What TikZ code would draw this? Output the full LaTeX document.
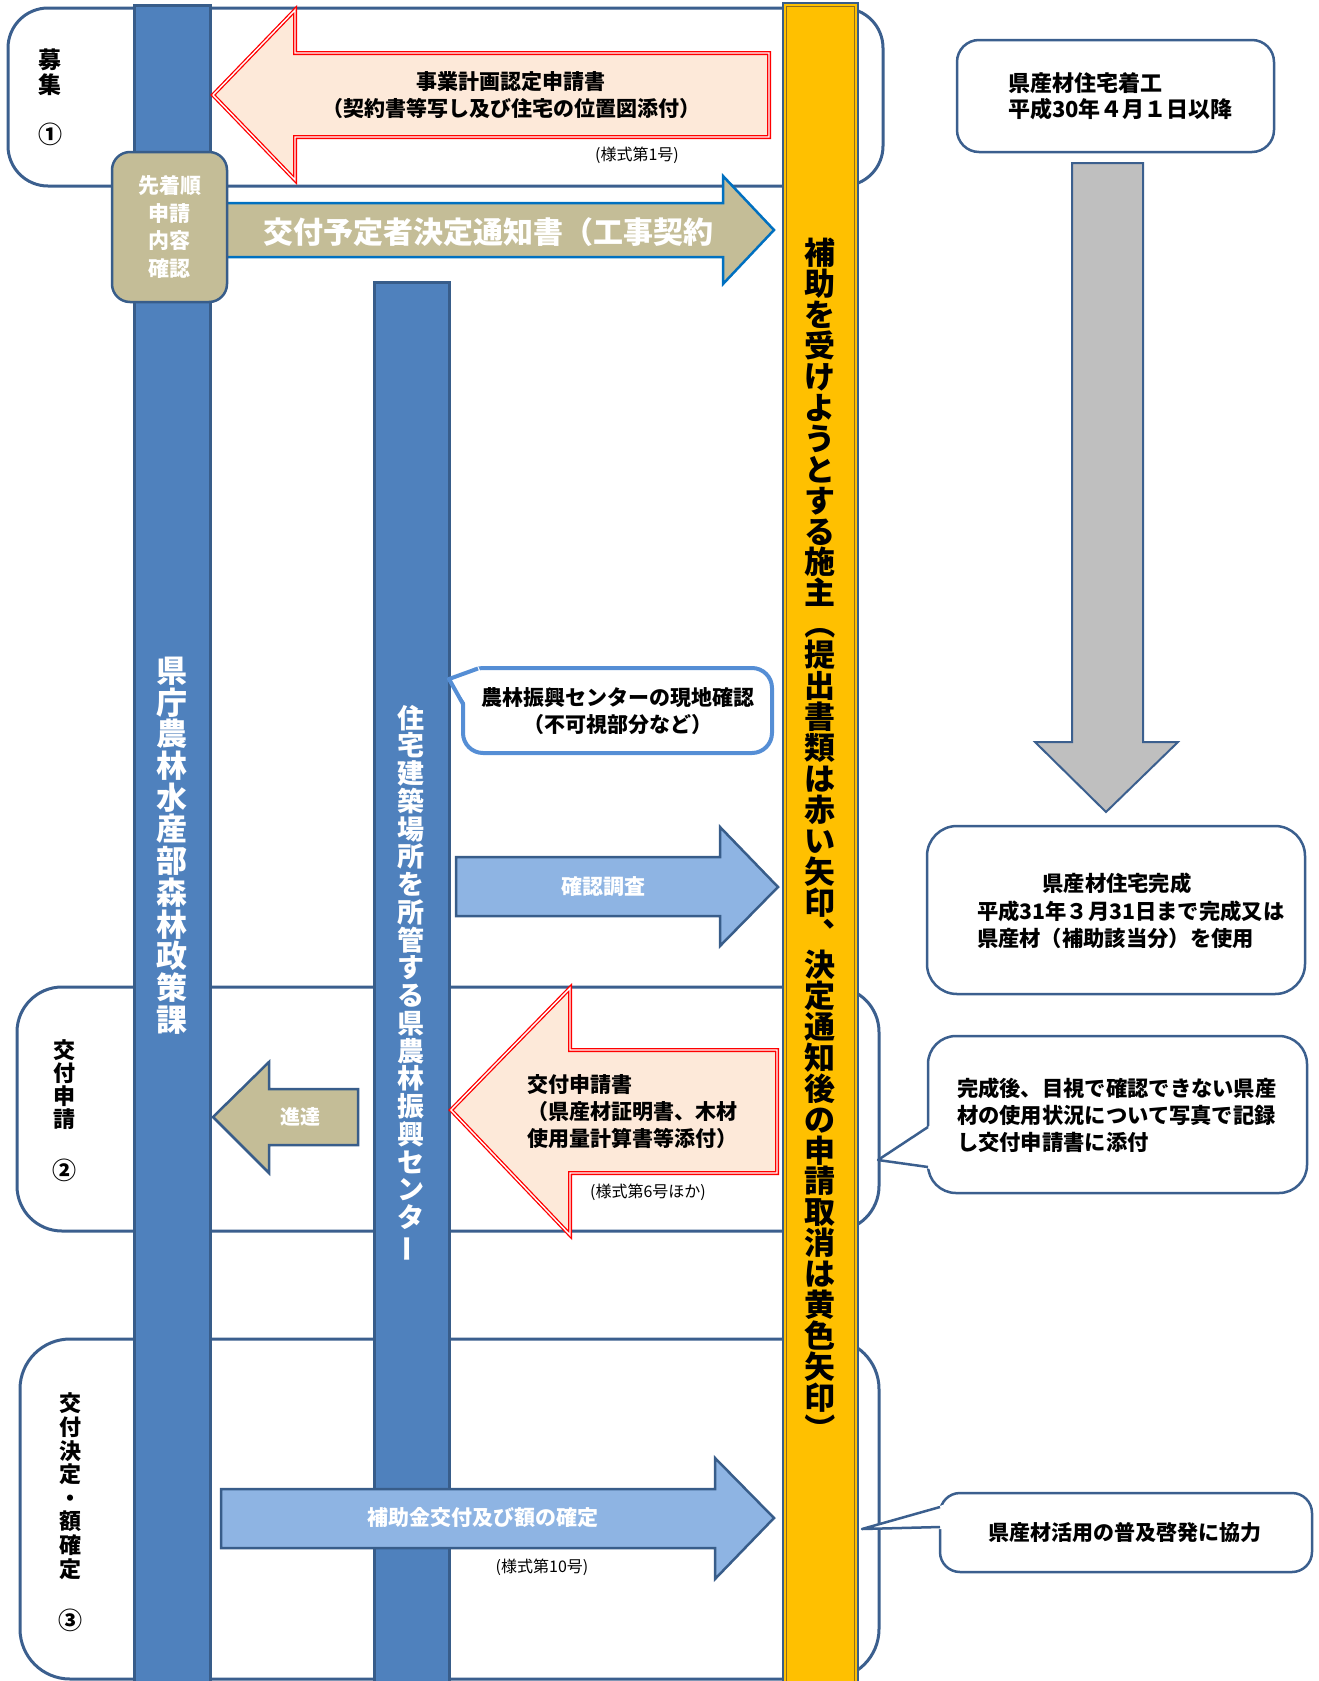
\documentclass[tikz,border=0pt]{standalone}
\usepackage{fontspec}
\usepackage{graphicx}
\newfontfamily\jp{Noto Sans CJK JP}
\definecolor{phase}{HTML}{3B5F8E}
\definecolor{barfill}{HTML}{4F81BD}
\definecolor{barline}{HTML}{385D8A}
\definecolor{khaki}{HTML}{C4BD97}
\definecolor{peach}{HTML}{FDE9D9}
\definecolor{ltblue}{HTML}{8EB4E3}
\definecolor{ybar}{HTML}{FFC000}
\definecolor{ybarin}{HTML}{8C6D1F}
\definecolor{grayarrow}{HTML}{BFBFBF}
\definecolor{calloutblue}{HTML}{558ED5}
\definecolor{noticeblue}{HTML}{0070C0}
\makeatletter
\newcommand\vtext[1]{\@tfor\vch:=#1\do{\vch\\}}
\makeatother
\newcommand\fsz[2]{\fontsize{#1}{#2}\selectfont}
\newcommand\vopen{{\rotatebox[origin=c]{-90}{（}}}
\newcommand\vclose{{\rotatebox[origin=c]{-90}{）}}}
\newcommand\vbar{{\rotatebox[origin=c]{90}{ー}}}
\begin{document}
\begin{tikzpicture}[x=1pt,y=-1pt,
  every node/.style={inner sep=0pt, outer sep=0pt},
  phasebox/.style={draw=phase, line width=3, fill=white},
  bluebar/.style={draw=barline, fill=barfill, line width=3},
  redarrow/.style={draw=red, double=white, double distance=1.4pt, line width=1.3pt, fill=peach},
  khakiarrow/.style={draw=barline, fill=khaki, line width=2.5},
  bluearrow/.style={draw=barline, fill=ltblue, line width=2.5},
  infobox/.style={draw=phase, fill=white, line width=2.5},
  boldtxt/.style={font=\jp\bfseries\fsz{21}{27}},
  smalltxt/.style={font=\jp\fsz{16}{18}, text=black},
  vlabel/.style={anchor=north, align=center, text=black},
]
\useasboundingbox (0,0) rectangle (1318,1681);

% phase boxes
\draw[phasebox, rounded corners=40] (8,8) rectangle (883,186);
\draw[phasebox, rounded corners=45] (17,987) rectangle (879,1231);
\draw[phasebox, rounded corners=50] (20,1339) rectangle (879,1679);

% vertical bars
\draw[bluebar] (134,5) rectangle (210,1695);
\draw[bluebar] (374,282) rectangle (449,1695);
\draw[draw=barline, fill=ybar, line width=1.5] (783,3) rectangle (858,1695);
\draw[draw=ybarin, line width=1] (786.5,6.5) rectangle (854.5,1695);

% red arrow 1
\draw[redarrow] (213,95) -- (295,10) -- (295,53) -- (769,53) -- (769,137) -- (295,137) -- (295,180) -- cycle;
% khaki arrow (notice)
\draw[draw=noticeblue, fill=khaki, line width=2.5] (200,203) -- (723,203) -- (723,176) -- (774,230) -- (723,284) -- (723,257) -- (200,257) -- cycle;
% first-come box
\draw[draw=barline, fill=khaki, line width=2.5, rounded corners=18] (112,152) rectangle (227,302);

% right column
\draw[infobox, rounded corners=22] (957,40) rectangle (1274,152);
\draw[draw=phase, fill=grayarrow, line width=2] (1072,163) -- (1143,163) -- (1143,742) -- (1178,742) -- (1106,812) -- (1035,742) -- (1072,742) -- cycle;
\draw[infobox, rounded corners=30] (927,826) rectangle (1305,994);

% callout: photo record
\draw[infobox, rounded corners=28] (928,1036) rectangle (1307,1193);
\fill[white] (931,1125) -- (878,1160) -- (931,1169) -- cycle;
\draw[draw=phase, line width=2.5, line join=round] (928,1127) -- (878,1160) -- (928,1167);

% callout: promotion
\draw[infobox, rounded corners=20] (940,1493) rectangle (1312,1572);
\fill[white] (943,1505) -- (862,1529) -- (943,1529) -- cycle;
\draw[draw=phase, line width=2.5, line join=round] (940,1507) -- (862,1529) -- (940,1527);

% callout: field check
\draw[draw=calloutblue, fill=white, line width=4, rounded corners=20] (463,668) rectangle (772,753);
\fill[white] (449,679) -- (478,666) -- (486,684) -- (466,704) -- cycle;
\draw[draw=calloutblue, line width=4, line join=round] (478,668.5) -- (449,679) -- (463,704);

% light-blue arrow 確認調査
\draw[bluearrow] (456,857) -- (720,857) -- (720,827) -- (778,887) -- (720,946) -- (720,916) -- (456,916) -- cycle;
% red arrow 2
\draw[redarrow] (451,1110) -- (570,988) -- (570,1050) -- (777,1050) -- (777,1173) -- (570,1173) -- (570,1235) -- cycle;
% khaki arrow 進達
\draw[khakiarrow] (213,1117) -- (269,1062) -- (269,1089) -- (358,1089) -- (358,1145) -- (269,1145) -- (269,1173) -- cycle;
% light-blue arrow 補助金交付
\draw[bluearrow] (221,1489) -- (715,1489) -- (715,1458) -- (774,1518) -- (715,1579) -- (715,1548) -- (221,1548) -- cycle;

% ---------- texts ----------
\node[vlabel, font=\jp\bfseries\fsz{23}{25}] (boshu) at (50,49) {\vtext{募集}};
\node[font=\jp\bfseries\fsz{24}{24}] (c1) at (50,134) {①};
\node[vlabel, font=\jp\bfseries\fsz{22}{23}] (kofushinsei) at (64,1040) {\vtext{交付申請}};
\node[font=\jp\bfseries\fsz{24}{24}] (c2) at (64,1170) {②};
\node[vlabel, font=\jp\bfseries\fsz{22}{23.6}] (kofukettei) at (70,1393) {\vtext{交付決定・額確定}};
\node[font=\jp\bfseries\fsz{24}{24}] (c3) at (70,1620) {③};

\node[anchor=north, align=center, text=white, font=\jp\bfseries\fsz{31}{31.7}] (kencho) at (172,657) {\vtext{県庁農林水産部森林政策課}};
\node[anchor=north, align=center, text=white, font=\jp\bfseries\fsz{27}{27.75}] (center) at (411,705) {\vtext{住宅建築場所を所管する県農林振興センタ\vbar}};
\node[anchor=north, align=center, text=black, font=\jp\bfseries\fsz{31}{30.95}] (seshu) at (820,238) {\vtext{補助を受けようとする施主\vopen 提出書類は赤い矢印︑決定通知後の申請取消は黄色矢印\vclose}};

\node[boldtxt, align=center, text=black] (jigyo) at (511,95) {事業計画認定申請書\\（契約書等写し及び住宅の位置図添付）};
\node[smalltxt] (yoshiki1) at (637,155) {(様式第1号)};
\node[font=\jp\bfseries\fsz{30}{30}, text=white] (tsuchi) at (488,232) {交付予定者決定通知書（工事契約};
\node[font=\jp\bfseries\fsz{21}{27.7}, text=white, align=center] (senchaku) at (169.5,227) {先着順\\申請\\内容\\確認};

\node[font=\jp\bfseries\fsz{22}{26}, text=black, align=left, anchor=west] (chakko) at (1008,96) {県産材住宅着工\\平成30年４月１日以降};
\node[font=\jp\bfseries\fsz{21.3}{27}, text=black] (kansei1) at (1117,883) {県産材住宅完成};
\node[font=\jp\bfseries\fsz{21.3}{27}, text=black, align=left, anchor=west] (kansei2) at (977,924.5) {平成31年３月31日まで完成又は\\県産材（補助該当分）を使用};
\node[font=\jp\bfseries\fsz{21.3}{27}, text=black, align=left, anchor=west] (shashin) at (957,1115) {完成後、目視で確認できない県産\\材の使用状況について写真で記録\\し交付申請書に添付};
\node[font=\jp\bfseries\fsz{21}{27}, text=black] (fukyu) at (1125,1533) {県産材活用の普及啓発に協力};

\node[boldtxt, align=center, text=black] (genchi) at (618,711) {農林振興センターの現地確認\\（不可視部分など）};
\node[boldtxt, text=white] (kakunin) at (603,887) {確認調査};
\node[boldtxt, align=left, anchor=west, text=black] (kofusho) at (527,1112) {交付申請書\\（県産材証明書、木材\\使用量計算書等添付）};
\node[smalltxt] (yoshiki6) at (648,1192) {(様式第6号ほか)};
\node[font=\jp\bfseries\fsz{20}{20}, text=white] (shintatsu) at (300,1117) {進達};
\node[boldtxt, text=white] (hojokin) at (483,1518) {補助金交付及び額の確定};
\node[smalltxt] (yoshiki10) at (542,1567) {(様式第10号)};
\end{tikzpicture}
\end{document}
